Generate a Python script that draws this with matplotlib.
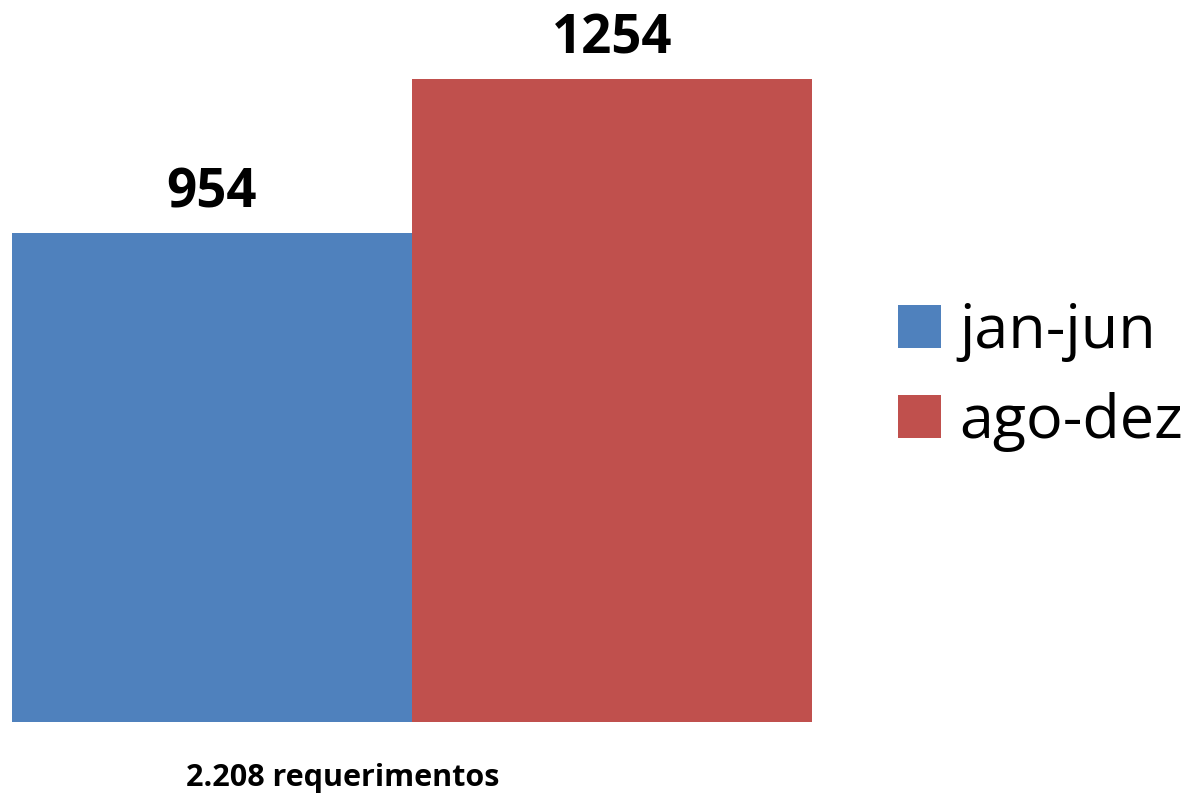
import matplotlib.pyplot as plt

periods = ["jan-jun", "ago-dez"]
counts = [954, 1254]
colours = ["#4F81BD", "#C0504D"]
total_label = "2.208 requerimentos"

plt.rcParams['font.family'] = ['Open Sans', 'DejaVu Sans']

fig = plt.figure(figsize=(11.98, 7.99), dpi=100)
# axes placed in pixel terms: left 12, right 812, bottom 722, top 20
ax = fig.add_axes([12 / 1198, 1 - 722 / 799, 800 / 1198, 702 / 799])

bars = ax.bar([0, 1], counts, width=1.0, color=colours)
for i, b in enumerate(bars):
    ax.text(b.get_x() + b.get_width() / 2, counts[i] + 25, str(counts[i]),
            ha='center', va='bottom', fontsize=38, fontweight='bold')

ax.set_xlim(-0.5, 1.5)
ax.set_ylim(0, 702 / (643 / 1254))
ax.axis('off')

fig.text(343 / 1198, 1 - 778 / 799, total_label, ha='center', va='center',
         fontsize=22, fontweight='bold')

fig.legend(handles=list(bars), labels=periods, loc='center left',
           bbox_to_anchor=(898 / 1198, 1 - 377 / 799), frameon=False,
           fontsize=44, handlelength=0.7, handleheight=0.7,
           handletextpad=0.3, labelspacing=0.5, borderpad=0,
           borderaxespad=0)

fig.savefig("out.png", dpi=100)
